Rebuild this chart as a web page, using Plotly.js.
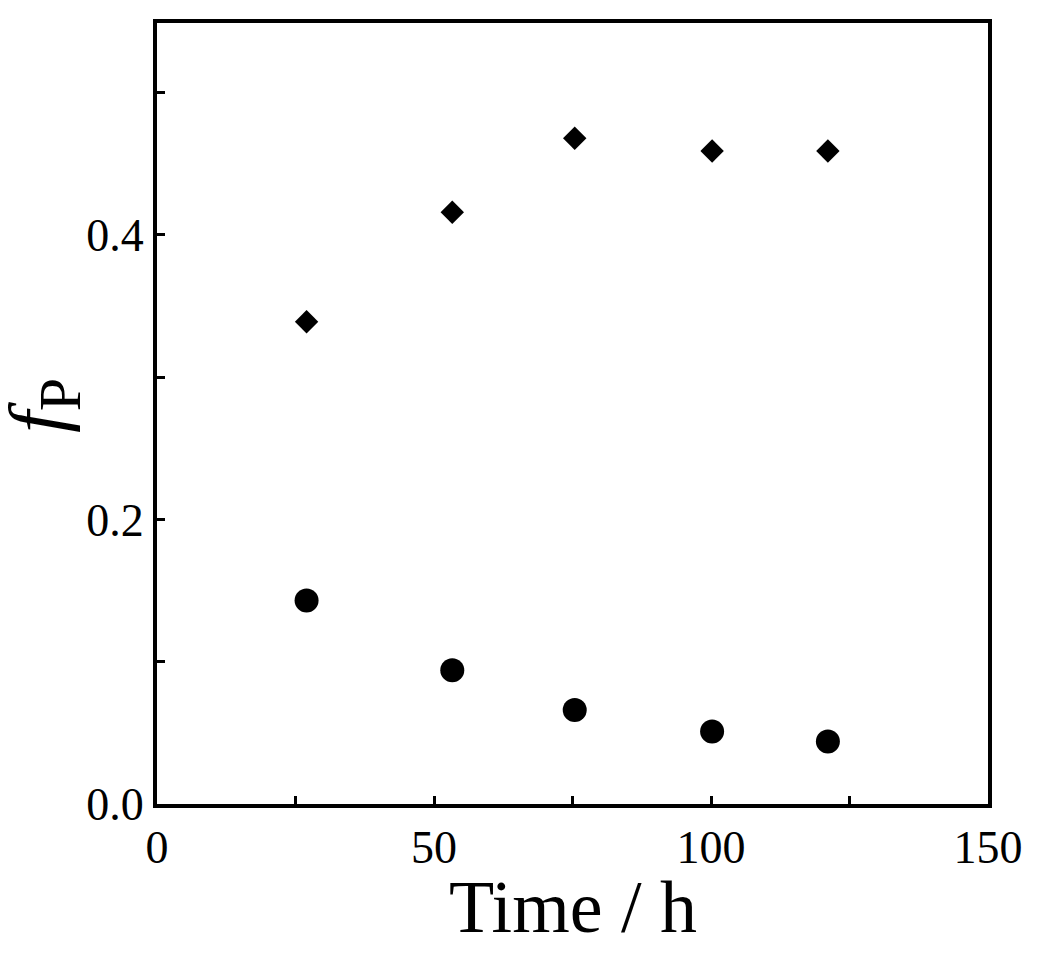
<!DOCTYPE html>
<html>
<head>
<meta charset="utf-8">
<script src="https://cdn.plot.ly/plotly-3.0.1.min.js"></script>
<style>
  html, body { margin: 0; padding: 0; background: #fff; }
  #chart { width: 1050px; height: 955px; }
</style>
</head>
<body>
<div id="chart"></div>
<script>
// time points (h)
const timeH = [27, 53.3, 75.4, 100.2, 121.1];
// upper series (diamonds) and lower series (circles)
const fpDiamond = [0.339, 0.416, 0.468, 0.459, 0.459];
const fpCircle  = [0.143, 0.094, 0.066, 0.051, 0.044];

const FONT = 'Liberation Serif, Times New Roman, serif';

function axisBase() {
    return {
        showline: true,
        linecolor: '#000',
        linewidth: 4,
        mirror: true,
        showgrid: false,
        zeroline: false,
        ticks: 'inside',
        ticklen: 8,
        tickwidth: 3,
        tickcolor: '#000',
        tickfont: { family: FONT, size: 46, color: '#000' }
    };
}

const traces = [
    { x: timeH, y: fpDiamond, type: 'scatter', mode: 'markers',
      marker: { symbol: 'diamond', size: 18, color: '#000' }, name: 'diamond' },
    { x: timeH, y: fpCircle, type: 'scatter', mode: 'markers',
      marker: { symbol: 'circle', size: 24, color: '#000' }, name: 'circle' }
];

const layout = {
    width: 1050,
    height: 955,
    showlegend: false,
    paper_bgcolor: '#fff',
    plot_bgcolor: '#fff',
    margin: { l: 157, r: 62, t: 23, b: 151 },
    font: { family: FONT, color: '#000' },
    xaxis: {
        ...axisBase(),
        range: [0, 150],
        tickmode: 'linear', tick0: 0, dtick: 50,
        minor: { dtick: 25, ticks: 'inside', ticklen: 8, tickwidth: 3, tickcolor: '#000', showgrid: false }
    },
    yaxis: {
        ...axisBase(),
        range: [0, 0.549],
        tickmode: 'linear', tick0: 0, dtick: 0.2,
        tickformat: '.1f',
        minor: { dtick: 0.1, ticks: 'inside', ticklen: 8, tickwidth: 3, tickcolor: '#000', showgrid: false }
    },
    // axis titles
    annotations: [
        { text: 'Time / h', xref: 'paper', yref: 'paper', x: 0.5, y: -0.132,
          xanchor: 'center', yanchor: 'middle', showarrow: false,
          font: { family: FONT, size: 74, color: '#000' } },
        { text: '<i>f</i><sub><span style="font-size:60px">P</span></sub>',
          xref: 'paper', yref: 'paper', x: -0.137, y: 0.51, textangle: -90,
          xanchor: 'center', yanchor: 'middle', showarrow: false,
          font: { family: FONT, size: 78, color: '#000' } }
    ]
};

Plotly.newPlot('chart', traces, layout, { displayModeBar: false, staticPlot: true });
</script>
</body>
</html>
